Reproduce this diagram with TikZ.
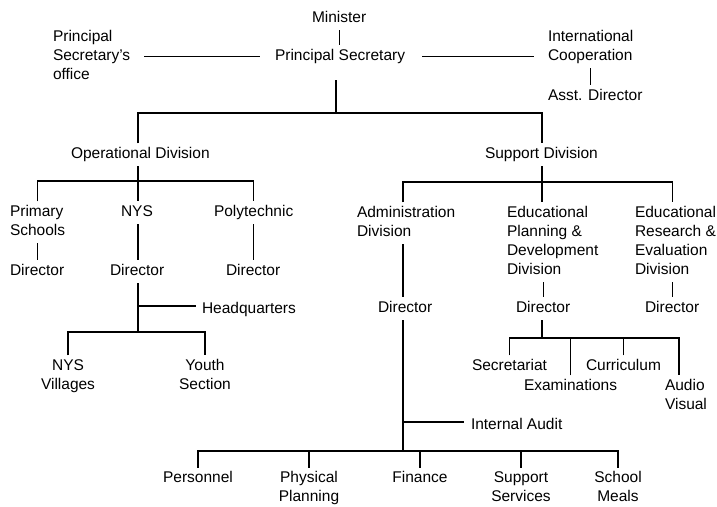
\documentclass[tikz,border=0pt]{standalone}
\usepackage{fontspec}
\setmainfont{Liberation Sans}
\usetikzlibrary{calc}
\begin{document}
\begin{tikzpicture}[x=1pt,y=-1pt,
  lbl/.style={inner sep=0pt, outer sep=2pt, font=\fontsize{15.5pt}{19pt}\selectfont, anchor=north west, align=left},
  clbl/.style={lbl, anchor=north, align=center},
  link/.style={line width=1.1pt, black}]
\fill[white] (0,0) rectangle (717,506);
\useasboundingbox (0,0) rectangle (717,506);

% top level
\node[lbl] (min) at (310,7.25) {Minister\strut};
\node[lbl] (ps) at (273,45.25) {Principal Secretary\strut};
\node[lbl] (pso) at (51,26.25) {Principal\strut\\Secretary's\strut\\office\strut};
\node[lbl] (ic) at (546,26.25) {International\strut\\Cooperation\strut};
\node[lbl] (ad) at (546,85.25) {Asst. Director\strut};
\node[lbl] (opd) at (69,143.25) {Operational Division\strut};
\node[lbl] (spd) at (483,143.25) {Support Division\strut};

% operational
\node[lbl] (prim) at (8,201.25) {Primary\strut\\Schools\strut};
\node[lbl] (nys) at (119,201.25) {NYS\strut};
\node[lbl] (poly) at (212,201.25) {Polytechnic\strut};
\node[lbl] (primd) at (8,260.25) {Director\strut};
\node[lbl] (nysd) at (108,260.25) {Director\strut};
\node[lbl] (polyd) at (224,260.25) {Director\strut};
\node[lbl] (hq) at (200,298.25) {Headquarters\strut};
\node[clbl] (nv) at (68,355.25) {NYS\strut\\Villages};
\node[clbl] (ys) at (205,355.25) {Youth\strut\\Section};

% support
\node[lbl] (adm) at (355,202.25) {Administration\strut\\Division\strut};
\node[lbl] (epd) at (505,202.25) {Educational\strut\\Planning \&\strut\\Development\strut\\Division\strut};
\node[lbl] (ere) at (633,202.25) {Educational\strut\\Research \&\strut\\Evaluation\strut\\Division\strut};
\node[lbl] (admd) at (376,297.25) {Director\strut};
\node[lbl] (epdd) at (514,297.25) {Director\strut};
\node[lbl] (ered) at (643,297.25) {Director\strut};
\node[lbl] (sec) at (470,355.25) {Secretariat\strut};
\node[lbl] (cur) at (584,355.25) {Curriculum\strut};
\node[lbl] (exa) at (522,375.25) {Examinations\strut};
\node[lbl] (av) at (663,375.25) {Audio\strut\\Visual};
\node[lbl] (ia) at (469,414.25) {Internal Audit\strut};
\node[clbl] (per) at (198,467.5) {Personnel\strut};
\node[clbl] (phy) at (309,467.5) {Physical\strut\\Planning};
\node[clbl] (fin) at (420,467.5) {Finance\strut};
\node[clbl] (sup) at (521,467.5) {Support\strut\\Services};
\node[clbl] (sm) at (618,467.5) {School\strut\\Meals};

% junctions
\coordinate (jT) at (336,113);
\coordinate (cO) at (138,181);
\coordinate (cS) at (542,182);
\coordinate (cH) at (138,306);
\coordinate (cN) at (138,332);
\coordinate (cE) at (542,338);
\coordinate (cV) at (679,338);
\coordinate (cI) at (403,422);
\coordinate (cA) at (403,451);

% top connectors
\draw[link] (min.south) -- (min.south |- ps.north);
\draw[link, shorten <=12pt, shorten >=13pt] (pso.east |- ps.west) -- (ps.west);
\draw[link, shorten <=15pt, shorten >=12pt] (ps.east) -- (ps.east -| ic.west);
\draw[link] (ic.south) -- (ic.south |- ad.north);
\draw[link, shorten <=12pt] (jT |- ps.south) -- (jT);
\draw[link] (cO |- opd.north) |- (jT) -| (cS |- spd.north);

% operational connectors
\draw[link] (cO |- opd.south) -- (cO);
\draw[link] (prim.north) |- (cO) -| (poly.north);
\draw[link] (cO) -- (cO |- nys.north);
\draw[link] (cO |- nys.south) -- (cO |- nysd.north);
\draw[link] (primd.north |- prim.south) -- (primd.north);
\draw[link] (polyd.north |- poly.south) -- (polyd.north);
\draw[link] (cO |- nysd.south) -- (cN);
\draw[link, shorten >=4pt] (cH) -- (cH -| hq.west);
\draw[link] (nv.north) |- (cN) -| (ys.north);

% support connectors
\draw[link] (cS |- spd.south) -- (cS);
\draw[link] (cA |- adm.north) |- (cS) -| (ered.north |- ere.north);
\draw[link] (cS) -- (cS |- epd.north);
\draw[link] (cA |- adm.south) -- (cA |- admd.north);
\draw[link] (epdd.north |- epd.south) -- (epdd.north);
\draw[link] (ered.north |- ere.south) -- (ered.north);
\draw[link] (cE |- epdd.south) -- (cE);
\draw[link] (sec.north) |- (cV) -- (cV |- av.north);
\draw[link] (exa.north) -- (exa.north |- cE);
\draw[link] (cur.north) -- (cur.north |- cE);

% administration connectors
\draw[link] (cA |- admd.south) -- (cA);
\draw[link, shorten >=5pt] (cI) -- (cI -| ia.west);
\draw[link] (per.north) |- (cA) -| (sm.north);
\draw[link] (phy.north) -- (phy.north |- cA);
\draw[link] (fin.north) -- (fin.north |- cA);
\draw[link] (sup.north) -- (sup.north |- cA);
\end{tikzpicture}
\end{document}
